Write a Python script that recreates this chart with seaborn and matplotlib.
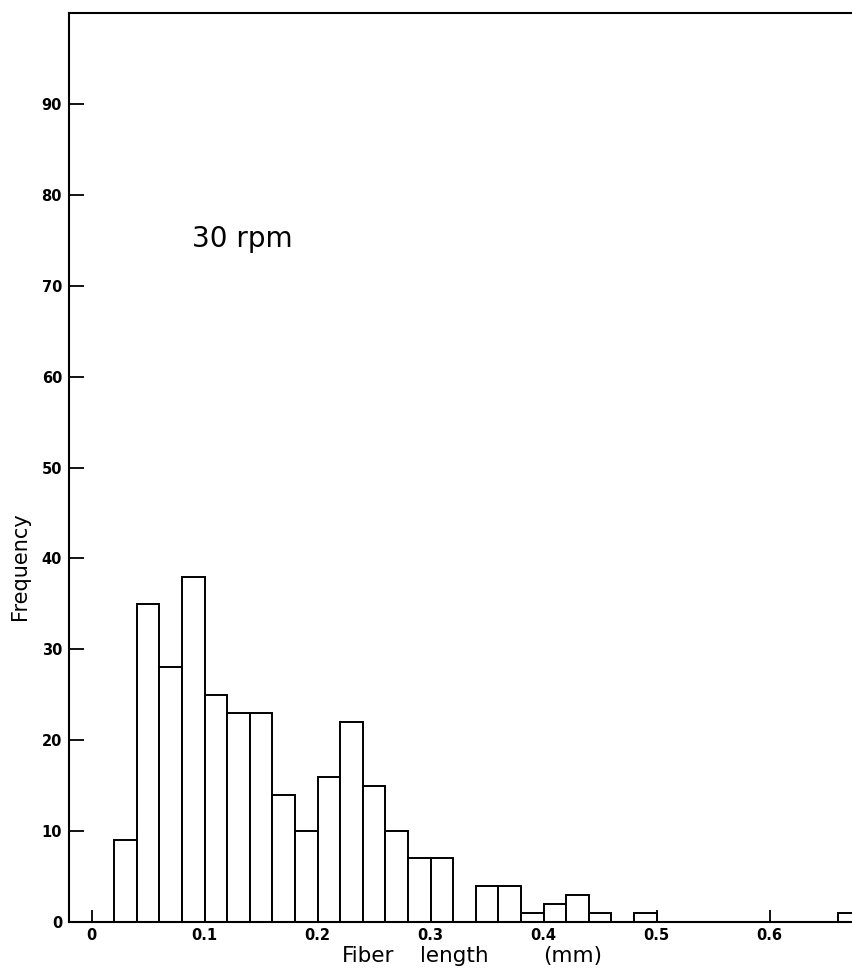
import numpy as np
import pandas as pd
import seaborn as sns
import matplotlib.pyplot as plt

# histogram bins (mm), width 0.02, starting at 0.02
bin_start = 0.02
bin_width = 0.02
counts = [9, 35, 28, 38, 25, 23, 23, 14, 10, 16, 22, 15, 10, 7, 7, 0,
          4, 4, 1, 2, 3, 1, 0, 1, 0, 0, 0, 0, 0, 0, 0, 0, 1]
bin_centers = bin_start + bin_width * (np.arange(len(counts)) + 0.5)

x_ticks = [0, 0.1, 0.2, 0.3, 0.4, 0.5, 0.6]
x_tick_labels = ["0", "0.1", "0.2", "0.3", "0.4", "0.5", "0.6"]
y_ticks = list(range(0, 100, 10))

df = pd.DataFrame({"length": bin_centers, "count": counts})

sns.set_style("ticks")
plt.rcParams['font.family'] = ['DejaVu Sans']
plt.rcParams['text.color'] = 'black'
plt.rcParams['xtick.color'] = 'black'
plt.rcParams['ytick.color'] = 'black'

fig = plt.figure(figsize=(8.53, 9.76), dpi=100)
ax = fig.add_axes([69 / 853, 54 / 976, 1 - 69 / 853, (922 - 13) / 976])

sns.histplot(data=df, x="length", weights="count", binwidth=bin_width,
             binrange=(bin_start, bin_start + bin_width * len(counts)), ax=ax,
             color="white", edgecolor="black", linewidth=1.4, alpha=1)

ax.set_xlim(-0.02, 0.6737)
ax.set_ylim(0, 100)
ax.set_xticks(x_ticks)
ax.set_xticklabels(x_tick_labels, fontweight="bold", fontsize=10.5)
ax.set_yticks(y_ticks)
ax.set_yticklabels([str(v) for v in y_ticks], fontweight="bold", fontsize=10.5)
ax.tick_params(axis="y", direction="in", length=11, width=1.3, pad=5)
ax.tick_params(axis="x", direction="in", length=9, width=1.3, pad=4)
ax.set_xlabel("")
ax.set_ylabel("")

for side in ["left", "bottom", "top"]:
    ax.spines[side].set_linewidth(1.5)
    ax.spines[side].set_color("black")
ax.spines["right"].set_visible(False)

fig.text(20 / 853, 1 - 566 / 976, "Frequency", rotation=90,
         ha="center", va="center", fontsize=15)
# x-axis title, spaced out as in the original
for word, xpix in [("Fiber", 342), ("length", 420), ("(mm)", 543)]:
    fig.text(xpix / 853, 1 - 962 / 976, word,
             ha="left", va="baseline", fontsize=15.5)
ax.text(192 / 853, 1 - 247 / 976, "30 rpm", transform=fig.transFigure,
        ha="left", va="baseline", fontsize=20)

fig.savefig("out.png", dpi=100)
